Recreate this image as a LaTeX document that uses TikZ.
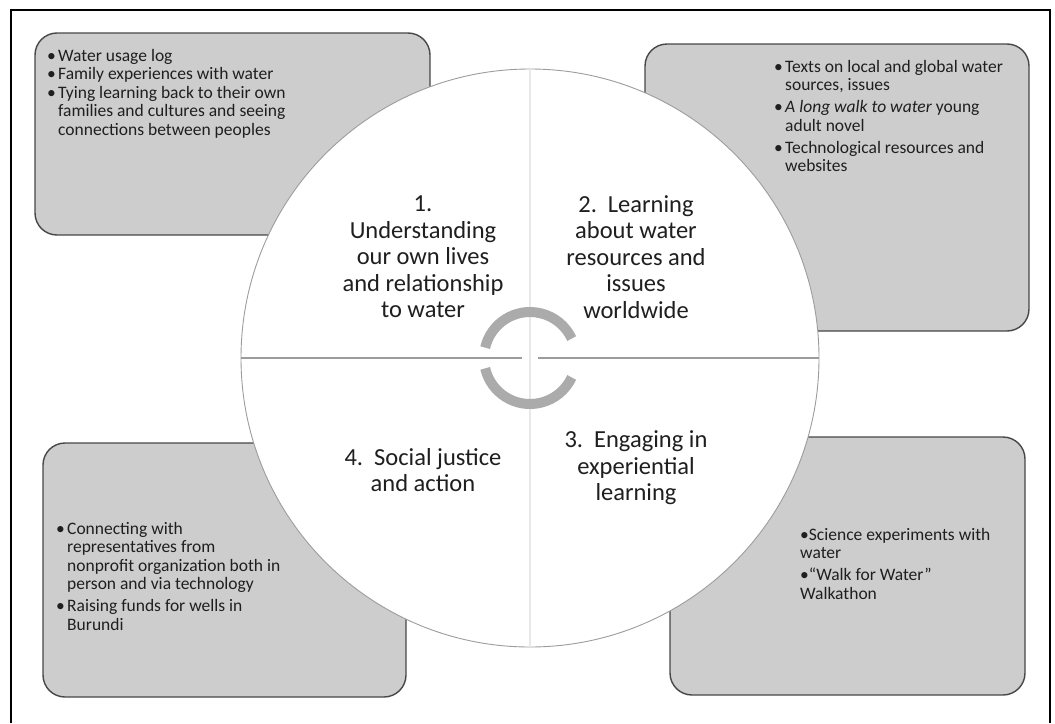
\documentclass[tikz,border=0pt]{standalone}
\usepackage{fontspec}
\setmainfont{Carlito}
\newcommand\bl{\makebox[11pt][l]{\textbullet}}
\newcommand\ind{\hspace*{11pt}}
\definecolor{panelfill}{HTML}{CDCDCD}
\definecolor{paneledge}{HTML}{474747}
\definecolor{ringgray}{HTML}{ABABAB}
\definecolor{divgray}{HTML}{9C9C9C}
\definecolor{faintgray}{HTML}{E8E8E8}
\begin{document}
\begin{tikzpicture}[x=1pt,y=-1pt,
  panel/.style={draw=paneledge, line width=1.4pt, fill=panelfill,
    rounded corners=22pt, rectangle, inner sep=0pt},
  paneltext/.style={anchor=north west, align=left, inner sep=0pt,
    font=\fontsize{17.5}{18.5}\selectfont, text=black!88},
  quartertext/.style={align=center, inner sep=0pt,
    font=\fontsize{24.5}{26.5}\selectfont, text=black!88},
  divider/.style={draw=divgray, line width=2.5pt},
  cyclearc/.style={draw=ringgray, line width=10pt}]
\useasboundingbox (0,0) rectangle (1055,723);

% outer frame, open at the bottom
\coordinate (fbl) at (11,723);
\coordinate (ftl) at (11,10);
\coordinate (ftr) at (1050,10);
\coordinate (fbr) at (1050,723);
\draw[line width=1.3pt] (fbl) -- (ftl) -- (ftr) -- (fbr);

% corner panels
\node[panel, minimum width=395pt, minimum height=202pt] (p1) at (232.5,134) {};
\node[panel, minimum width=384pt, minimum height=287pt] (p2) at (837,187.5) {};
\node[panel, minimum width=355pt, minimum height=258pt] (p3) at (847.5,566) {};
\node[panel, minimum width=363pt, minimum height=254pt] (p4) at (224.5,570) {};

% panel contents
\node[paneltext] (t1) at (47,49) {%
  \bl Water usage log\\
  \bl Family experiences with water\\
  \bl Tying learning back to their own\\
  \ind families and cultures and seeing\\
  \ind connections between peoples};
\node[paneltext] (t2) at (774,60) {%
  \bl Texts on local and global water\\
  \ind sources, issues\\[3.5pt]
  \bl \textit{A long walk to water} young\\
  \ind adult novel\\[3.5pt]
  \bl Technological resources and\\
  \ind websites};
\node[paneltext] (t3) at (800,528) {%
  \textbullet Science experiments with\\
  water\\[3.5pt]
  \textbullet\textquotedblleft Walk for Water\textquotedblright\\
  Walkathon};
\node[paneltext] (t4) at (56,522) {%
  \bl Connecting with\\
  \ind representatives from\\
  \ind nonprofit organization both in\\
  \ind person and via technology\\[3.5pt]
  \bl Raising funds for wells in\\
  \ind Burundi};

% central disc with its quarter dividers
\node[circle, minimum size=578pt, inner sep=0pt, fill=white,
  draw=divgray, line width=0.9pt] (c) at (530,358) {};
\draw[draw=faintgray, line width=2.5pt] (c.north) -- (c.south);
\draw[divider] (c.west) -- ([xshift=-8pt]c.center);
\draw[divider] ([xshift=8pt]c.center) -- (c.east);

% cycle arcs around the centre
\draw[cyclearc] ([shift={(-167:46)}]c.center) arc[start angle=-167, end angle=-25, radius=46];
\draw[cyclearc] ([shift={(167:46)}]c.center) arc[start angle=167, end angle=25, radius=46];

% quarter labels
\node[quartertext] (q1) at (423,257) {1.\\Understanding\\our own lives\\and relationship\\to water};
\node[quartertext] (q2) at (636,257) {2.\hspace{0.45em}Learning\\about water\\resources and\\issues\\worldwide};
\node[quartertext] (q3) at (636,468) {3.\hspace{0.45em}Engaging in\\experiential\\learning};
\node[quartertext] (q4) at (423,470) {4.\hspace{0.45em}Social justice\\and action};
\end{tikzpicture}
\end{document}
